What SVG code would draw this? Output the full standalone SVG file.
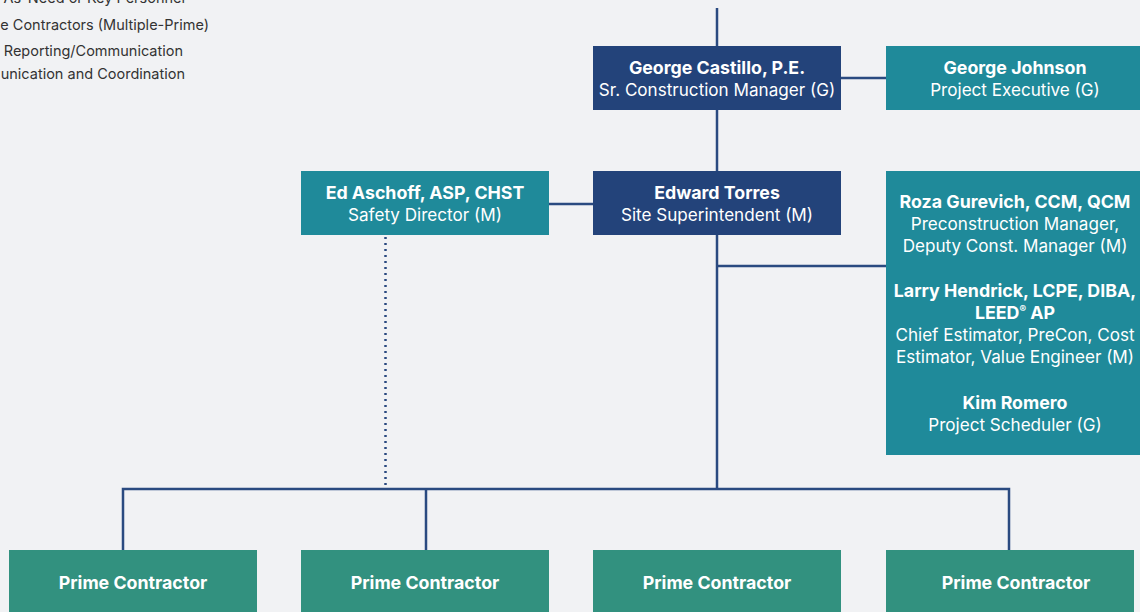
<svg xmlns="http://www.w3.org/2000/svg" width="1140" height="612" viewBox="0 0 1140 612">
<style>
.bg{fill:#F1F2F4}
.navy{fill:#23437A}
.teal{fill:#1F8A9A}
.green{fill:#32917F}
.t{font-family:Inter,Roboto,"Liberation Sans",sans-serif;font-size:17.1px;fill:#FFFFFF;text-anchor:middle}
.b{font-weight:bold;font-size:17.8px}
.lg{font-family:Inter,Roboto,"Liberation Sans",sans-serif;font-size:14.5px;fill:#333333;text-anchor:end}
.ln{stroke:#2A4A80;stroke-width:2.5;fill:none}
.dot{stroke:#2A4A80;stroke-width:2.5;fill:none;stroke-dasharray:2 4}
</style>
<rect class="bg" x="0" y="0" width="1140" height="612"/>
<g id="legend">
<text class="lg" x="185" y="3">As-Need or Key Personnel</text>
<text class="lg" x="209" y="30">e Contractors (Multiple-Prime)</text>
<text class="lg" x="183" y="56">Reporting/Communication</text>
<text class="lg" x="185" y="79">unication and Coordination</text>
</g>
<g id="connectors">
<line class="ln" x1="717" y1="8" x2="717" y2="46"/>
<line class="ln" x1="841" y1="78" x2="886" y2="78"/>
<line class="ln" x1="717" y1="110" x2="717" y2="171"/>
<line class="ln" x1="549" y1="204" x2="593" y2="204"/>
<line class="ln" x1="717" y1="235" x2="717" y2="489"/>
<line class="ln" x1="717" y1="266" x2="886" y2="266"/>
<polyline class="ln" points="123,550 123,489 1009,489 1009,550"/>
<line class="ln" x1="426" y1="489" x2="426" y2="550"/>
<line class="dot" x1="385.5" y1="237" x2="385.5" y2="488"/>
</g>
<g id="castillo">
<rect class="navy" x="593" y="46" width="248" height="64"/>
<text class="t b" x="717" y="74">George Castillo, P.E.</text>
<text class="t" x="717" y="96">Sr. Construction Manager (G)</text>
</g>
<g id="johnson">
<rect class="teal" x="886" y="46" width="254" height="64"/>
<text class="t b" x="1015" y="74">George Johnson</text>
<text class="t" x="1015" y="96">Project Executive (G)</text>
</g>
<g id="torres">
<rect class="navy" x="593" y="171" width="248" height="64"/>
<text class="t b" x="717" y="199">Edward Torres</text>
<text class="t" x="717" y="221">Site Superintendent (M)</text>
</g>
<g id="aschoff">
<rect class="teal" x="301" y="171" width="248" height="64"/>
<text class="t b" x="425" y="199">Ed Aschoff, ASP, CHST</text>
<text class="t" x="425" y="221">Safety Director (M)</text>
</g>
<g id="staff">
<rect class="teal" x="886" y="171" width="254" height="284"/>
<text class="t b" x="1015" y="208">Roza Gurevich, CCM, QCM</text>
<text class="t" x="1015" y="230">Preconstruction Manager,</text>
<text class="t" x="1015" y="252">Deputy Const. Manager (M)</text>
<text class="t b" x="1015" y="297">Larry Hendrick, LCPE, DIBA,</text>
<text class="t b" x="1015" y="319">LEED<tspan font-size="10" dy="-6">®</tspan><tspan dy="6"> AP</tspan></text>
<text class="t" x="1015" y="341">Chief Estimator, PreCon, Cost</text>
<text class="t" x="1015" y="363">Estimator, Value Engineer (M)</text>
<text class="t b" x="1015" y="409">Kim Romero</text>
<text class="t" x="1015" y="431">Project Scheduler (G)</text>
</g>
<g id="prime1">
<rect class="green" x="9" y="550" width="248" height="70"/>
<text class="t b" x="133" y="589">Prime Contractor</text>
</g>
<g id="prime2">
<rect class="green" x="301" y="550" width="248" height="70"/>
<text class="t b" x="425" y="589">Prime Contractor</text>
</g>
<g id="prime3">
<rect class="green" x="593" y="550" width="248" height="70"/>
<text class="t b" x="717" y="589">Prime Contractor</text>
</g>
<g id="prime4">
<rect class="green" x="886" y="550" width="248" height="70"/>
<text class="t b" x="1016" y="589">Prime Contractor</text>
</g>
</svg>
